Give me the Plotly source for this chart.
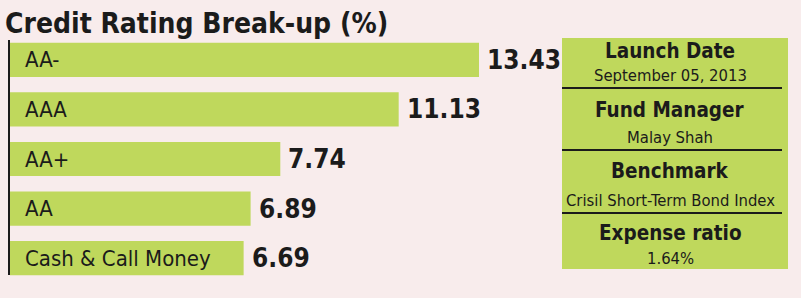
import plotly.graph_objects as go

categories = ["AA-", "AAA", "AA+", "AA", "Cash & Call Money"]
values = [13.43, 11.13, 7.74, 6.89, 6.69]
value_labels = ["13.43", "11.13", "7.74", "6.89", "6.69"]

info_titles = ["Launch Date", "Fund Manager", "Benchmark", "Expense ratio"]
info_values = ["September 05, 2013", "Malay Shah", "Crisil Short-Term Bond Index", "1.64%"]

title_text = "Credit Rating Break-up (%)"

W, H = 801, 298
ML, MR, MT, MB = 10, 0, 35, 15
PW, PH = W - ML - MR, H - MT - MB

BG = "#F8ECEC"
GREEN = "#BFD85C"
DARK = "#1b1b1b"
FONT = "DejaVu Sans Condensed, sans-serif"


def px(x):
    return (x - ML) / PW


def py(y):
    return (H - MB - y) / PH


fig = go.Figure()
fig.add_trace(go.Bar(
    orientation="h",
    y=categories,
    x=values,
    marker=dict(color=GREEN, line=dict(width=0)),
    hoverinfo="skip",
))

annotations = []
for c, v, lab in zip(categories, values, value_labels):
    annotations.append(dict(x=0, y=c, xref="x", yref="y", text=c, showarrow=False,
                            xanchor="left", xshift=13, yshift=0,
                            font=dict(family=FONT, size=22, color=DARK)))
    annotations.append(dict(x=v, y=c, xref="x", yref="y", text="<b>%s</b>" % lab, showarrow=False,
                            xanchor="left", xshift=6,
                            font=dict(family=FONT, size=26, color=DARK)))

annotations.append(dict(x=px(3), y=py(23), xref="paper", yref="paper", text="<b>%s</b>" % title_text,
                        showarrow=False, xanchor="left", yanchor="middle",
                        font=dict(family=FONT, size=28, color=DARK)))

title_centers = [51, 110, 171, 233]
value_centers = [75, 137, 200, 258]
for t, v, yt, yv in zip(info_titles, info_values, title_centers, value_centers):
    annotations.append(dict(x=px(670), y=py(yt), xref="paper", yref="paper", text="<b>%s</b>" % t,
                            showarrow=False, xanchor="center", yanchor="middle",
                            font=dict(family=FONT, size=20.5, color=DARK)))
    annotations.append(dict(x=px(670), y=py(yv), xref="paper", yref="paper", text=v,
                            showarrow=False, xanchor="center", yanchor="middle",
                            font=dict(family=FONT, size=16.5, color=DARK)))

shapes = [
    dict(type="rect", xref="paper", yref="paper", x0=px(562), x1=px(788), y0=py(269), y1=py(38),
         fillcolor=GREEN, line=dict(width=0), layer="below"),
    dict(type="line", xref="paper", yref="paper", x0=px(9), x1=px(9), y0=py(275), y1=py(40),
         line=dict(color=DARK, width=2)),
]
for ly in [88, 150, 213]:
    shapes.append(dict(type="line", xref="paper", yref="paper", x0=px(562), x1=px(782),
                       y0=py(ly), y1=py(ly), line=dict(color=DARK, width=2)))

k = 469 / 13.43
fig.update_layout(
    width=W, height=H,
    margin=dict(l=ML, r=MR, t=MT, b=MB),
    paper_bgcolor=BG, plot_bgcolor=BG,
    showlegend=False,
    bargap=0.31,
    xaxis=dict(range=[0, PW / k], visible=False, fixedrange=True),
    yaxis=dict(autorange="reversed", visible=False, fixedrange=True),
    annotations=annotations,
    shapes=shapes,
)

fig.write_html("out.html")
